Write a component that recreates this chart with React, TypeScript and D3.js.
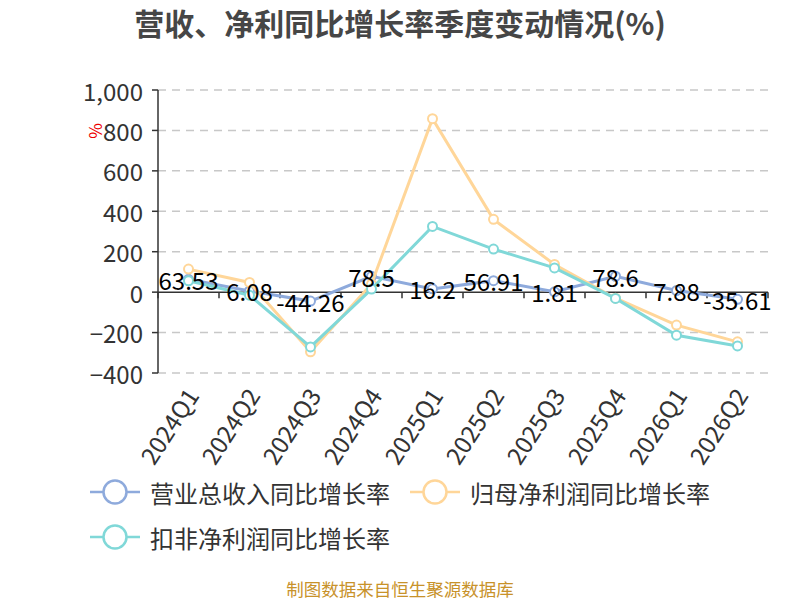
import React, { useEffect, useRef } from 'react';
import { select, scaleLinear, scaleBand, line, format } from 'd3';

const quarters = ['2024Q1', '2024Q2', '2024Q3', '2024Q4', '2025Q1', '2025Q2', '2025Q3', '2025Q4', '2026Q1', '2026Q2'];
const revenue = [63.53, 6.08, -44.26, 78.5, 16.2, 56.91, 1.81, 78.6, 7.88, -35.61];
const netProfit = [114, 48, -295, 40, 858, 360, 137, -30, -163, -246];
const deductedProfit = [56, -15, -271, 15, 325, 213, 120, -31, -213, -266];
const yTicks = [-400, -200, 0, 200, 400, 600, 800, 1000];

const seriesNames = ['营业总收入同比增长率', '归母净利润同比增长率', '扣非净利润同比增长率'];
const colors = ['#8eaadc', '#ffd699', '#80d8d8'];

const W = 800;
const H = 600;
const FONT = '"Noto Sans CJK SC", "Noto Sans", sans-serif';
const m = { left: 158, right: 768, top: 90, bottom: 373 };

function App() {
  const svgRef = useRef<SVGSVGElement | null>(null);

  useEffect(() => {
    const svg = select(svgRef.current);
    svg.selectAll('*').remove();

    const x = scaleBand().domain(quarters).range([m.left, m.right]);
    const y = scaleLinear().domain([-400, 1000]).range([m.bottom, m.top]);
    const cx = (q: string) => x(q)! + x.bandwidth() / 2;

    // title
    svg.append('text')
      .attr('x', 400).attr('y', 22)
      .attr('text-anchor', 'middle').attr('dominant-baseline', 'central')
      .attr('font-family', FONT).attr('font-size', 30).attr('font-weight', 'bold')
      .attr('fill', '#464646')
      .text('营收、净利同比增长率季度变动情况(%)');

    // grid
    svg.append('g').selectAll('line')
      .data(yTicks.filter(t => t !== 0))
      .enter().append('line')
      .attr('x1', m.left).attr('x2', m.right)
      .attr('y1', d => y(d)).attr('y2', d => y(d))
      .attr('stroke', '#c8c8c8').attr('stroke-width', 1.5)
      .attr('stroke-dasharray', '8,6');

    // y axis
    const yg = svg.append('g');
    yg.append('line')
      .attr('x1', m.left).attr('x2', m.left).attr('y1', m.top).attr('y2', m.bottom)
      .attr('stroke', '#333').attr('stroke-width', 1.5);
    yg.selectAll('line.tk').data(yTicks).enter().append('line')
      .attr('class', 'tk')
      .attr('x1', m.left - 6).attr('x2', m.left)
      .attr('y1', d => y(d)).attr('y2', d => y(d))
      .attr('stroke', '#333').attr('stroke-width', 1.5);
    yg.selectAll('text').data(yTicks).enter().append('text')
      .attr('x', m.left - 15).attr('y', d => y(d))
      .attr('text-anchor', 'end').attr('dominant-baseline', 'central')
      .attr('font-family', FONT).attr('font-size', 24).attr('fill', '#333')
      .text(d => format(',')(d));

    svg.append('text')
      .attr('transform', 'translate(94,131) rotate(-90)')
      .attr('text-anchor', 'middle').attr('dominant-baseline', 'central')
      .attr('font-family', FONT).attr('font-size', 17).attr('fill', '#e00')
      .text('%');

    // x axis at zero
    const xg = svg.append('g');
    xg.append('line')
      .attr('x1', m.left).attr('x2', m.right).attr('y1', y(0)).attr('y2', y(0))
      .attr('stroke', '#333').attr('stroke-width', 1.5);
    const bounds = quarters.map(q => x(q)!).concat([m.right]);
    xg.selectAll('line.tk').data(bounds).enter().append('line')
      .attr('class', 'tk')
      .attr('x1', d => d).attr('x2', d => d)
      .attr('y1', y(0)).attr('y2', y(0) + 6)
      .attr('stroke', '#333').attr('stroke-width', 1.5);
    xg.selectAll('text').data(quarters).enter().append('text')
      .attr('transform', d => `translate(${cx(d) + 3},390) rotate(-57)`)
      .attr('text-anchor', 'end').attr('dominant-baseline', 'central')
      .attr('font-family', FONT).attr('font-size', 24).attr('fill', '#333')
      .text(d => d);

    // series
    const all = [revenue, netProfit, deductedProfit];
    const ln = line<number>().x((_, i) => cx(quarters[i])).y(d => y(d));
    all.forEach((vals, si) => {
      const g = svg.append('g');
      g.append('path').attr('d', ln(vals)!)
        .attr('fill', 'none').attr('stroke', colors[si]).attr('stroke-width', 3);
      g.selectAll('circle').data(vals).enter().append('circle')
        .attr('cx', (_, i) => cx(quarters[i])).attr('cy', d => y(d)).attr('r', 4.5)
        .attr('fill', '#fff').attr('stroke', colors[si]).attr('stroke-width', 2);
    });

    // labels for revenue
    svg.append('g').selectAll('text').data(revenue).enter().append('text')
      .attr('x', (_, i) => cx(quarters[i])).attr('y', d => y(d))
      .attr('text-anchor', 'middle').attr('dominant-baseline', 'central')
      .attr('font-family', FONT).attr('font-size', 24).attr('fill', '#000')
      .text(d => String(d));

    // legend
    const legendPos = [[90, 492], [410, 492], [90, 537]];
    seriesNames.forEach((name, i) => {
      const [lx, ly] = legendPos[i];
      const g = svg.append('g');
      g.append('line').attr('x1', lx).attr('x2', lx + 50).attr('y1', ly).attr('y2', ly)
        .attr('stroke', colors[i]).attr('stroke-width', 2.5);
      g.append('circle').attr('cx', lx + 25).attr('cy', ly).attr('r', 11.5)
        .attr('fill', '#fff').attr('stroke', colors[i]).attr('stroke-width', 2.5);
      g.append('text').attr('x', lx + 60).attr('y', ly)
        .attr('dominant-baseline', 'central')
        .attr('font-family', FONT).attr('font-size', 24).attr('fill', '#333')
        .text(name);
    });

    // footer
    svg.append('text')
      .attr('x', 400).attr('y', 588)
      .attr('text-anchor', 'middle').attr('dominant-baseline', 'central')
      .attr('font-family', FONT).attr('font-size', 17.5).attr('fill', '#c8922a')
      .text('制图数据来自恒生聚源数据库');
  }, []);

  return (
    <svg ref={svgRef} width={W} height={H}
      style={{ position: 'absolute', left: 0, top: 0, background: '#fff' }} />
  );
}

export default App;
